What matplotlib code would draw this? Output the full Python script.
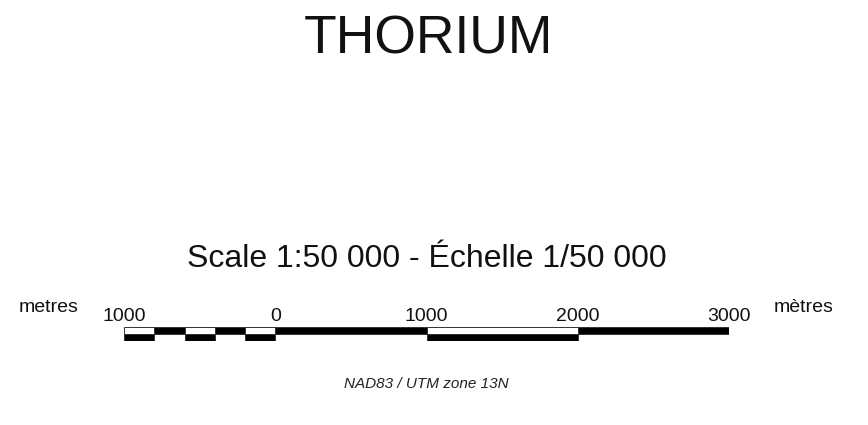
import matplotlib.pyplot as plt

plt.rcParams['font.family'] = ['Liberation Sans', 'DejaVu Sans']

# scale bar segments (metres)
seg_start = [-1000, -800, -600, -400, -200, 0, 1000, 2000]
seg_width = [200, 200, 200, 200, 200, 1000, 1000, 1000]
top_black = [False, True, False, True, False, True, False, True]
tick_vals = [-1000, 0, 1000, 2000, 3000]
tick_text = ['1000', '0', '1000', '2000', '3000']

W, H = 868, 425
fig = plt.figure(figsize=(W / 100, H / 100), dpi=100)

x0, x1 = 124, 729
y_top, y_bot = 327, 341
ax = fig.add_axes([x0 / W, (H - y_bot) / H, (x1 - x0) / W, (y_bot - y_top) / H])
ax.set_xlim(-1000, 3000)
ax.set_ylim(0, 2)
ax.axis('off')

for s, w, tb in zip(seg_start, seg_width, top_black):
    ax.bar(s, 1, width=w, bottom=1, align='edge',
           color='black' if tb else 'white', edgecolor='#333333', linewidth=0.7)
    ax.bar(s, 1, width=w, bottom=0, align='edge',
           color='white' if tb else 'black', edgecolor='#333333', linewidth=0.7)

for v, t in zip(tick_vals, tick_text):
    ax.text(v, 3.5, t, ha='center', va='center', fontsize=14, clip_on=False,
            color='#111111')

fig.text(428 / W, 1 - 40 / H, 'THORIUM', ha='center', va='center', fontsize=38.5,
         color='#111111')
fig.text(427 / W, 1 - 259 / H, 'Scale 1:50 000 - Échelle 1/50 000',
         ha='center', va='center', fontsize=23, color='#111111')
fig.text(49 / W, 1 - 308 / H, 'metres', ha='center', va='center', fontsize=14,
         color='#111111')
fig.text(804 / W, 1 - 308 / H, 'mètres', ha='center', va='center', fontsize=14,
         color='#111111')
fig.text(426 / W, 1 - 384 / H, 'NAD83 / UTM zone 13N', ha='center', va='center',
         fontsize=11, style='italic', color='#222222')

fig.savefig('out.png', dpi=100)
